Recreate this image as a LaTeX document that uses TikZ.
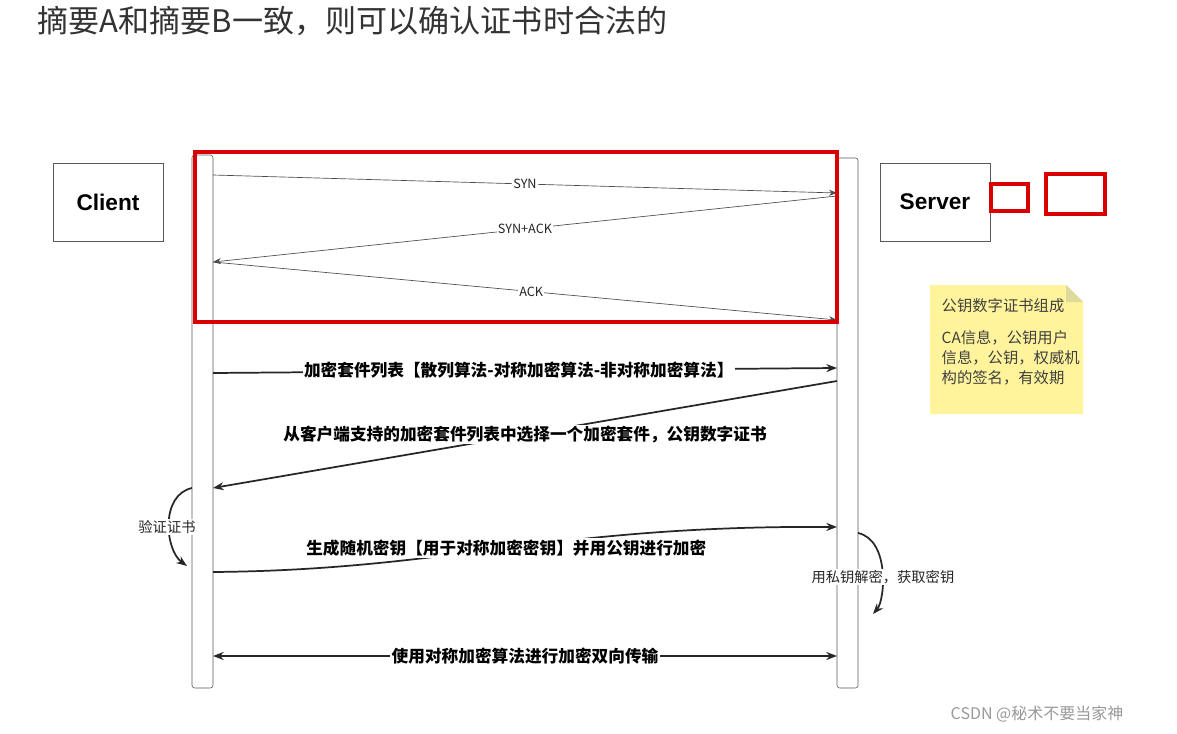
\documentclass[tikz,border=0pt]{standalone}
\usepackage{fontspec}
\setmainfont{Liberation Sans}
\newfontfamily\cjk{Noto Sans CJK SC}
\usetikzlibrary{arrows.meta}
\begin{document}
\begin{tikzpicture}[x=0.75pt,y=-0.75pt,
  box/.style={draw=gray!70!black,fill=white,minimum width=82.5pt,minimum height=58.5pt,font=\bfseries\fontsize{17}{17}\selectfont},
  life/.style={draw=gray!70!black,rounded corners=2pt,fill=white},
  thin/.style={draw=gray!60!black,line width=0.5pt,-{Stealth[length=6pt]}},
  thick/.style={draw=black!85,line width=1.3pt,-{Stealth[length=8pt]}},
  lbl/.style={fill=white,inner sep=1pt,font=\cjk\fontsize{9.5}{9.5}\selectfont,text=gray!30!black},
  blbl/.style={fill=white,inner sep=1pt,font=\cjk\bfseries\fontsize{12.5}{12.5}\selectfont},
  slbl/.style={fill=white,inner sep=1pt,font=\cjk\fontsize{10.7}{10.7}\selectfont,text=gray!30!black},
  redbox/.style={draw=red!85!black,line width=2.4pt}]
\useasboundingbox (0,0) rectangle (1177,734);
\fill[white] (0,0) rectangle (1177,734);
\node[anchor=west,font=\cjk\fontsize{23.3}{23.3}\selectfont,text=black!80] (title) at (33,21) {摘要A和摘要B一致，则可以确认证书时合法的};
\node[box] (client) at (108,202) {Client};
\node[box] (server) at (935,202) {Server};
\draw[life] (192,155) rectangle (213,688);
\draw[life] (837,158) rectangle (858,688);
\coordinate (c1) at (213,175); \coordinate (s1) at (837,193);
\coordinate (s2) at (837,196); \coordinate (c2) at (213,262);
\coordinate (c3) at (213,262); \coordinate (s3) at (837,320);
\draw[thin] (c1) -- node[lbl,pos=0.5]{SYN} (s1);
\draw[thin] (s2) -- node[lbl,pos=0.5]{SYN+ACK} (c2);
\draw[thin] (c3) -- node[lbl,pos=0.51]{ACK} (s3);
\draw[redbox] (195,152) rectangle (837,322);
\draw[redbox] (991,184) rectangle (1028,211);
\draw[redbox] (1046,174) rectangle (1105,214);
% note
\fill[yellow!35!white!95!orange] (930,285) -- (1066,285) -- (1083,302) -- (1083,414) -- (930,414) -- cycle;
\fill[gray!50!yellow!60] (1066,285) -- (1083,302) -- (1066,302) -- cycle;
\node[anchor=north west,align=left,font=\cjk\fontsize{11.5}{15}\selectfont,text=black!75] (note) at (937,294) {公钥数字证书组成\\[9pt]CA信息，公钥用户\\信息，公钥，权威机\\构的签名，有效期};
% messages
\coordinate (m1a) at (213,373); \coordinate (m1b) at (837,368);
\draw[thick] (m1a) -- node[blbl,pos=0.49]{加密套件列表【散列算法-对称加密算法-非对称加密算法】} (m1b);
\coordinate (m2a) at (837,381); \coordinate (m2b) at (213,488);
\draw[thick] (m2a) -- node[blbl,pos=0.5]{从客户端支持的加密套件列表中选择一个加密套件，公钥数字证书} (m2b);
\coordinate (v1) at (192,488); \coordinate (v2) at (187,566);
\draw[thick] (v1) .. controls (160,495) and (165,550) .. (v2);
\node[slbl] (vl) at (167,527) {验证证书};
\coordinate (m3a) at (213,572); \coordinate (m3b) at (837,527);
\draw[thick] (m3a) .. controls (450,570) and (550,525) .. node[blbl,pos=0.5]{生成随机密钥【用于对称加密密钥】并用公钥进行加密} (m3b);
\coordinate (p1) at (858,533); \coordinate (p2) at (873,614);
\draw[thick] (p1) .. controls (890,540) and (885,600) .. (p2);
\node[slbl,anchor=west] (pl) at (810,577) {用私钥解密，获取密钥};
\coordinate (m4a) at (213,656); \coordinate (m4b) at (837,656);
\draw[thick,{Stealth[length=8pt]}-{Stealth[length=8pt]}] (m4a) -- node[blbl]{使用对称加密算法进行加密双向传输} (m4b);
\node[anchor=west,font=\cjk\fontsize{12}{12}\selectfont,text=gray!80] (wm) at (946,714) {CSDN @秘术不要当家神};
\end{tikzpicture}
\end{document}
